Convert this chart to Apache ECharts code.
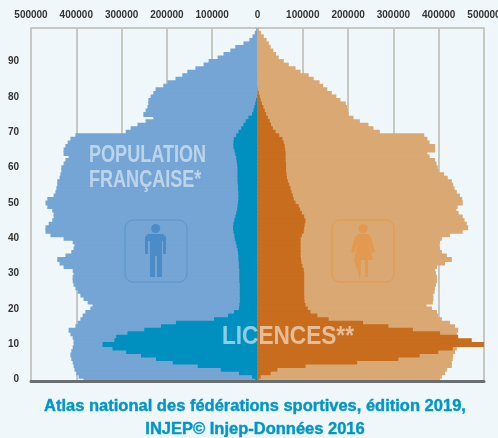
<!DOCTYPE html>
<html lang="fr">
<head>
    <meta charset="UTF-8">
    <title>Pyramide des ages</title>
    <script src="https://cdn.jsdelivr.net/npm/echarts@6/dist/echarts.min.js"></script>
    <style>
        html, body { margin: 0; padding: 0; background: #f0f7fb; }
    </style>
</head>
<body>
<div id="main" style="width:498px;height:438px;"></div>
<script type="text/javascript">
    // ages 0 -> 99, values in thousands of persons (multiplied on build)
    var ages = [];
    for (var a = 0; a < 100; a++) { ages.push(String(a)); }

    var popHommes = [384,395,400,404,406,408,411,413,411,408,
        406,406,408,413,417,402,397,391,386,380,
        369,364,375,384,391,397,402,406,408,408,
        406,408,428,437,442,424,411,406,404,408,
        428,457,468,468,461,453,450,450,453,464,
        468,464,450,446,444,442,442,437,435,433,
        433,428,424,417,428,428,424,419,413,402,
        291,280,265,247,230,252,247,243,241,241,
        236,230,225,208,199,181,166,155,137,119,
        108,88,75,60,49,31,18,11,6,3];
    var popFemmes = [403,407,414,418,429,429,431,432,436,440,
        440,440,440,440,443,436,425,407,399,396,
        385,373,387,388,388,391,392,394,396,396,
        394,392,396,414,429,418,407,403,401,403,
        407,425,453,465,462,457,453,444,439,442,
        453,452,447,440,435,432,429,420,412,400,
        398,395,392,380,375,392,392,380,375,368,
        270,256,245,226,212,201,200,198,195,183,
        174,164,154,145,137,124,113,95,84,69,
        58,47,41,35,29,25,20,14,8,3];
    var licHommes = [5,12,41,81,132,187,224,257,290,320,
        342,316,312,287,250,213,180,96,65,52,
        41,40,39,39,39,39,39,39,40,40,
        40,40,41,41,42,42,43,44,46,48,
        50,51,53,54,53,51,49,47,45,44,
        43,42,42,42,43,43,44,44,44,44,
        44,45,46,47,49,51,53,53,52,47,
        42,36,31,26,20,12,9,7,5,3,
        1,0,0,0,0,0,0,0,0,0,
        0,0,0,0,0,0,0,0,0,0];
    var licFemmes = [3,7,29,44,106,220,311,358,399,431,
        501,473,443,403,343,289,233,157,132,117,
        111,106,104,103,103,103,103,103,103,103,
        103,102,99,97,96,95,95,95,95,95,
        95,98,102,103,104,106,103,98,94,91,
        84,80,78,75,73,70,67,65,64,63,
        63,63,62,62,62,61,60,58,55,48,
        40,34,30,27,23,19,16,13,10,7,
        5,3,1,0,0,0,0,0,0,0,
        0,0,0,0,0,0,0,0,0,0];

    function neg(list) { return list.map(function (v) { return -v * 1000; }); }
    function pos(list) { return list.map(function (v) { return v * 1000; }); }
    function bar(name, data, color) {
        return {
            name: name, type: 'bar', data: data, barWidth: 5, barGap: '-100%',
            itemStyle: { color: color }, silent: true, animation: false
        };
    }

    var myChart = echarts.init(document.getElementById('main'));
    var font = '"Liberation Sans", sans-serif';
    var option = {
        backgroundColor: '#f0f7fb',
        grid: { left: 31, right: 14, top: 28, bottom: 56.5, outerBoundsMode: 'none' },
        xAxis: [{
            type: 'value', position: 'top', min: -500000, max: 500000, interval: 100000,
            axisLine: { show: true, onZero: false, lineStyle: { color: '#c6c8c2', width: 2 } },
            axisTick: { show: false },
            axisLabel: {
                margin: 8, color: '#333', fontFamily: 'Liberation Sans', fontWeight: 'bold', fontSize: 10,
                formatter: function (v) { return String(Math.abs(v)); }
            },
            splitLine: { show: true, lineStyle: { color: '#c6c8c2', width: 2 } }
        }, {
            type: 'value', position: 'bottom', min: -500000, max: 500000, interval: 100000, z: 5,
            axisLine: { show: true, onZero: false, lineStyle: { color: '#6b6e70', width: 3 } },
            axisTick: { show: false }, axisLabel: { show: false }, splitLine: { show: false }
        }],
        yAxis: {
            type: 'category', data: ages,
            axisLine: { show: false }, axisTick: { show: false },
            axisLabel: {
                interval: 9, margin: 12, color: '#333', fontFamily: 'Liberation Sans', fontWeight: 'bold', fontSize: 10,
                formatter: function (v) { return +v % 10 === 0 ? v : ''; }
            },
            splitLine: { show: false }
        },
        series: [
            bar('Population hommes', neg(popHommes), '#74a5d4'),
            bar('Population femmes', pos(popFemmes), '#d9a873'),
            bar('Licences hommes', neg(licHommes), '#0090c0'),
            bar('Licences femmes', pos(licFemmes), '#c76d1d')
        ],
        graphic: [
            { type: 'text', z: 50, x: 89, y: 143, scaleX: 0.785, style: { text: 'POPULATION\nFRANÇAISE*', fill: 'rgba(255,255,255,0.52)', font: 'bold 23px ' + font, lineHeight: 25 } },
            { type: 'text', z: 50, x: 222, y: 324, scaleX: 0.87, style: { text: 'LICENCES**', fill: 'rgba(255,255,255,0.55)', font: 'bold 26px ' + font } },
            // pictos
            { type: 'rect', z: 40, shape: { x: 125, y: 220, width: 62, height: 62, r: 8 }, style: { fill: 'none', stroke: '#5c94cc', lineWidth: 1 } },
            { type: 'circle', z: 40, shape: { cx: 155.7, cy: 228.5, r: 4.5 }, style: { fill: '#4a8bc8' } },
            { type: 'polygon', z: 40, shape: { points: [[148,234],[163,234],[166,237],[166,254],[163,254],[163,241],[162,241],[162,277],[157,277],[157,256],[155,256],[155,277],[150,277],[150,241],[148,241],[148,254],[145,254],[145,237]] }, style: { fill: '#4a8bc8' } },
            { type: 'rect', z: 40, shape: { x: 332, y: 220, width: 62, height: 62, r: 8 }, style: { fill: 'none', stroke: '#e3994f', lineWidth: 1 } },
            { type: 'circle', z: 40, shape: { cx: 363, cy: 228.5, r: 4.5 }, style: { fill: '#e3994f' } },
            { type: 'polygon', z: 40, shape: { points: [[358,234],[368,234],[371,237],[375,252],[372,253],[368,241],[373,260],[368,260],[368,277],[365,277],[365,260],[361,260],[360,280],[358,272],[354,260],[358,241],[354,253],[351,252],[355,237]] }, style: { fill: '#e3994f' } },
            { type: 'text', z: 50, x: 255, y: 395, style: { text: 'Atlas national des fédérations sportives, édition 2019,\nINJEP© Injep-Données 2016', fill: '#0096c8', stroke: '#0096c8', lineWidth: 0.4, font: 'bold 16.5px ' + font, lineHeight: 23, align: 'center' } }
        ]
    };
    myChart.setOption(option);
</script>
</body>
</html>
